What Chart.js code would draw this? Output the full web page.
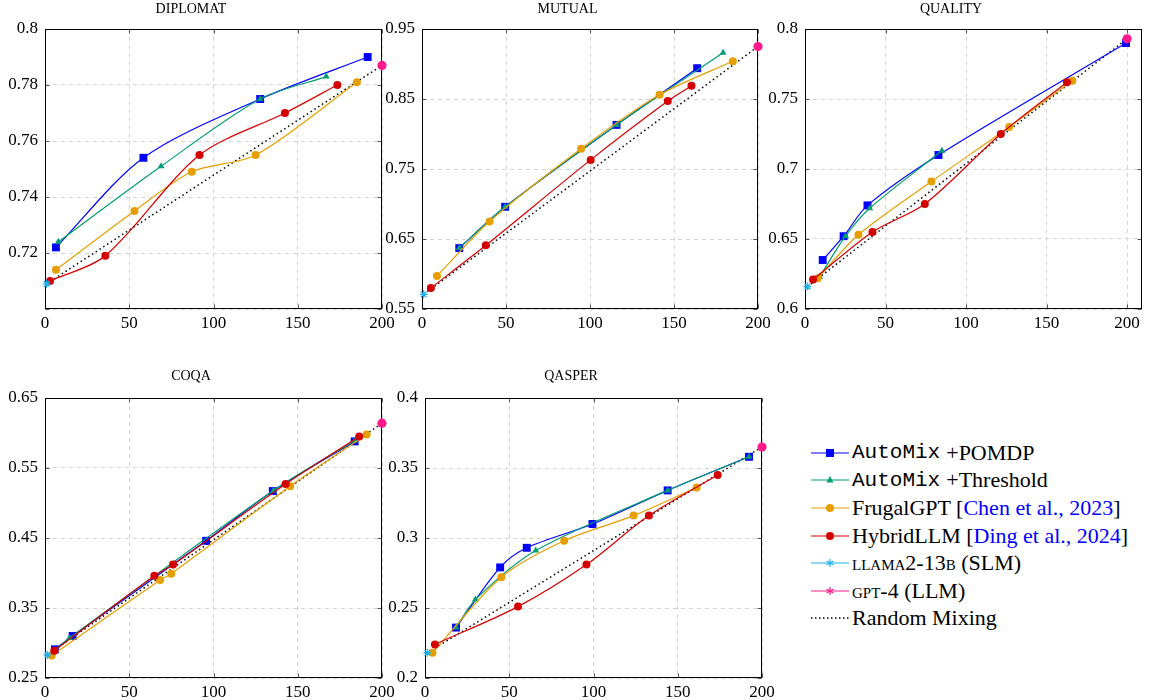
<!DOCTYPE html>
<html>
<head>
<meta charset="utf-8">
<script src="https://cdn.jsdelivr.net/npm/chart.js@4.4.1/dist/chart.umd.min.js"></script>
<style>
body { margin: 0; background: #fff; width: 1150px; height: 700px; position: relative; overflow: hidden; font-family: "Liberation Serif", serif; }
canvas { position: absolute; }
#legend { position: absolute; left: 811px; top: 439px; font-size: 22px; color: #000; }
.row { display: flex; align-items: center; height: 27.6px; white-space: nowrap; }
.row svg { margin-right: 3px; flex: none; }
.tt { font-family: "Liberation Mono", monospace; font-size: 21px; margin-right: 6px; }
.cite { color: #0000ff; }
.sc { font-variant: small-caps; }
</style>
</head>
<body>
<canvas id="diplomat" width="402" height="338"></canvas>
<canvas id="mutual" width="401" height="338"></canvas>
<canvas id="quality" width="402" height="338"></canvas>
<canvas id="coqa" width="402" height="338"></canvas>
<canvas id="qasper" width="402" height="338"></canvas>

<div id="legend">
	<div class="row"><svg width="38" height="14"><line x1="0" y1="7" x2="38" y2="7" stroke="#0000ff" stroke-width="1.2"/><rect x="15" y="3" width="8" height="8" fill="#0000ff"/></svg><span class="tt">AutoMix</span>+POMDP</div>
	<div class="row"><svg width="38" height="14"><line x1="0" y1="7" x2="38" y2="7" stroke="#009e73" stroke-width="1.2"/><polygon points="19,3 22.5,9.5 15.5,9.5" fill="#009e73"/></svg><span class="tt">AutoMix</span>+Threshold</div>
	<div class="row"><svg width="38" height="14"><line x1="0" y1="7" x2="38" y2="7" stroke="#e69f00" stroke-width="1.2"/><circle cx="19" cy="7" r="4" fill="#e69f00"/></svg>FrugalGPT [<span class="cite">Chen et al., 2023</span>]</div>
	<div class="row"><svg width="38" height="14"><line x1="0" y1="7" x2="38" y2="7" stroke="#d40000" stroke-width="1.2"/><circle cx="19" cy="7" r="4" fill="#d40000"/></svg>HybridLLM [<span class="cite">Ding et al., 2024</span>]</div>
	<div class="row"><svg width="38" height="14"><line x1="0" y1="7" x2="38" y2="7" stroke="#1fb4ee" stroke-width="1.2"/><path d="M19,3 V11 M15.5,5 L22.5,9 M15.5,9 L22.5,5" stroke="#1fb4ee" stroke-width="1.2"/></svg><span class="sc">llama</span>2-13<span class="sc">b</span>&nbsp;(SLM)</div>
	<div class="row"><svg width="38" height="14"><line x1="0" y1="7" x2="38" y2="7" stroke="#ff1a8c" stroke-width="1.2"/><path d="M19,3 V11 M15.5,5 L22.5,9 M15.5,9 L22.5,5" stroke="#ff1a8c" stroke-width="1.2"/></svg><span class="sc">gpt</span>-4 (LLM)</div>
	<div class="row"><svg width="38" height="14"><line x1="0" y1="7" x2="38" y2="7" stroke="#000" stroke-width="1.5" stroke-dasharray="1.5 2.5"/></svg>Random Mixing</div>
</div>

<script>
// values: [cost, score]
const xTicks = [0, 50, 100, 150, 200];

const diplomatPomdp = [[6.5, 0.722], [58.4, 0.754], [127.7, 0.775], [191.5, 0.790]];
const diplomatThreshold = [[7.9, 0.724], [68.9, 0.751], [127.7, 0.775], [166.9, 0.783]];
const diplomatFrugal = [[6.5, 0.714], [53.1, 0.735], [87.1, 0.749], [125, 0.755], [185.1, 0.781]];
const diplomatHybrid = [[3, 0.710], [35.8, 0.719], [91.7, 0.755], [142.4, 0.770], [173.5, 0.780]];
const diplomatSlm = [[1, 0.709]];
const diplomatLlm = [[200, 0.787]];

const mutualPomdp = [[22.2, 0.637], [49.5, 0.696], [115.8, 0.813], [163.8, 0.894]];
const mutualThreshold = [[22.2, 0.637], [49.5, 0.696], [115.8, 0.813], [179.2, 0.916]];
const mutualFrugal = [[8.9, 0.597], [40.2, 0.675], [94.7, 0.779], [141.4, 0.856], [185, 0.904]];
const mutualHybrid = [[5.3, 0.580], [38, 0.641], [100.4, 0.763], [146.3, 0.847], [160.4, 0.869]];
const mutualSlm = [[1, 0.571]];
const mutualLlm = [[200, 0.925]];

const qualityPomdp = [[11, 0.635], [24, 0.652], [38.8, 0.674], [82.9, 0.710], [199.4, 0.790]];
const qualityThreshold = [[9.1, 0.623], [25.1, 0.652], [40.2, 0.672], [85, 0.713]];
const qualityFrugal = [[7.9, 0.622], [33.2, 0.653], [78.5, 0.691], [126.8, 0.730], [166, 0.763]];
const qualityHybrid = [[5, 0.621], [41.9, 0.655], [74.4, 0.675], [121.6, 0.725], [162.7, 0.762]];
const qualitySlm = [[1.5, 0.616]];
const qualityLlm = [[200, 0.793]];

const coqaPomdp = [[5.9, 0.291], [16.4, 0.310], [95.6, 0.446], [135.2, 0.517], [183.8, 0.588]];
const coqaThreshold = [[5.5, 0.289], [14.5, 0.307], [135.6, 0.518], [183.8, 0.589]];
const coqaFrugal = [[4, 0.282], [68.3, 0.390], [74.9, 0.399], [145.5, 0.524], [190.9, 0.598]];
const coqaHybrid = [[5.5, 0.289], [64.9, 0.396], [76, 0.412], [142.8, 0.527], [186.5, 0.595]];
const coqaSlm = [[1.4, 0.283]];
const coqaLlm = [[200, 0.614]];

const qasperPomdp = [[18.4, 0.236], [44.6, 0.279], [60.4, 0.293], [99.4, 0.310], [144, 0.334], [192.3, 0.358]];
const qasperThreshold = [[18.4, 0.236], [29.9, 0.256], [65.7, 0.291], [144, 0.334], [192.3, 0.358]];
const qasperFrugal = [[4.4, 0.218], [45.3, 0.272], [82.6, 0.298], [123.8, 0.316], [161.2, 0.336]];
const qasperHybrid = [[5.9, 0.224], [55.2, 0.251], [95.8, 0.281], [132.9, 0.316], [173.7, 0.345]];
const qasperSlm = [[1.4, 0.218]];
const qasperLlm = [[200, 0.365]];

const seriesStyles = [
	{ label: "AutoMix +POMDP", color: "#0000ff", pointStyle: "rect", radius: 5.6, line: true },
	{ label: "AutoMix +Threshold", color: "#009e73", pointStyle: "triangle", radius: 4, line: true },
	{ label: "FrugalGPT", color: "#e69f00", pointStyle: "circle", radius: 4, line: true },
	{ label: "HybridLLM", color: "#d40000", pointStyle: "circle", radius: 4, line: true },
	{ label: "llama2-13b (SLM)", color: "#1fb4ee", pointStyle: "star", radius: 4, line: false },
	{ label: "gpt-4 (LLM)", color: "#ff1a8c", pointStyle: "circle", radius: 4.6, line: false },
];

const panels = [
	{ id: "diplomat", title: "DIPLOMAT", left: 45, top: 29, w: 337, h: 280, xMax: 200, yMin: 0.7, yMax: 0.8, yStep: 0.02, hideMin: true, gap: 20,
		series: [diplomatPomdp, diplomatThreshold, diplomatFrugal, diplomatHybrid, diplomatSlm, diplomatLlm] },
	{ id: "mutual", title: "MUTUAL", left: 422, top: 29, w: 336, h: 280, xMax: 200, yMin: 0.55, yMax: 0.95, yStep: 0.1, hideMin: false, gap: 20,
		series: [mutualPomdp, mutualThreshold, mutualFrugal, mutualHybrid, mutualSlm, mutualLlm] },
	{ id: "quality", title: "QUALITY", left: 805, top: 29, w: 337, h: 280, xMax: 209.3, yMin: 0.6, yMax: 0.8, yStep: 0.05, hideMin: false, gap: 20,
		series: [qualityPomdp, qualityThreshold, qualityFrugal, qualityHybrid, qualitySlm, qualityLlm] },
	{ id: "coqa", title: "COQA", left: 45, top: 398, w: 337, h: 280, xMax: 200, yMin: 0.25, yMax: 0.65, yStep: 0.1, hideMin: false, gap: 22,
		series: [coqaPomdp, coqaThreshold, coqaFrugal, coqaHybrid, coqaSlm, coqaLlm] },
	{ id: "qasper", title: "QASPER", left: 425, top: 398, w: 337, h: 280, xMax: 200, yMin: 0.2, yMax: 0.4, yStep: 0.05, hideMin: false, gap: 22,
		series: [qasperPomdp, qasperThreshold, qasperFrugal, qasperHybrid, qasperSlm, qasperLlm] },
];

const tickFont = { family: "'Liberation Serif', serif", size: 17 };

// frame and inner tick marks like pgfplots
const boxPlugin = {
	id: "box",
	beforeDatasetsDraw(chart) {
		const { ctx, chartArea: a, scales } = chart;
		const l = Math.round(a.left) + 0.5, r = Math.round(a.right) - 0.5;
		const t = Math.round(a.top) + 0.5, b = Math.round(a.bottom) - 0.5;
		ctx.save();
		ctx.strokeStyle = "#555";
		ctx.lineWidth = 1;
		ctx.beginPath();
		scales.x.ticks.forEach((tk) => {
			const px = Math.round(scales.x.getPixelForValue(tk.value)) + 0.5;
			ctx.moveTo(px, b); ctx.lineTo(px, b - 4);
			ctx.moveTo(px, t); ctx.lineTo(px, t + 4);
		});
		scales.y.ticks.forEach((tk) => {
			const py = Math.round(scales.y.getPixelForValue(tk.value)) + 0.5;
			ctx.moveTo(l, py); ctx.lineTo(l + 4, py);
			ctx.moveTo(r, py); ctx.lineTo(r - 4, py);
		});
		ctx.stroke();
		ctx.strokeStyle = "#000";
		ctx.strokeRect(l, t, r - l, b - t);
		ctx.restore();
	},
};

function renderPanel(p) {
	const canvas = document.getElementById(p.id);
	canvas.width = 45 + p.w + 20;
	canvas.height = 30 + p.h + 28;
	canvas.style.left = (p.left - 45) + "px";
	canvas.style.top = (p.top - 30) + "px";

	let datasets = p.series.map((pts, i) => {
		const s = seriesStyles[i];
		return {
			label: s.label,
			data: pts.map((d) => ({ x: d[0], y: d[1] })),
			showLine: s.line,
			borderColor: s.color,
			backgroundColor: s.color,
			borderWidth: 1.2,
			tension: 0.3,
			pointStyle: s.pointStyle,
			pointRadius: s.radius,
			pointBorderWidth: s.pointStyle === "star" ? 1.3 : 0,
			pointBorderColor: s.color,
			pointBackgroundColor: s.color,
			clip: false,
			order: 10 - i,
		};
	});
	const slm = p.series[4][0];
	const llm = p.series[5][0];
	datasets = [...datasets, {
		label: "Random Mixing",
		data: [{ x: slm[0], y: slm[1] }, { x: llm[0], y: llm[1] }],
		showLine: true,
		borderColor: "#000",
		borderWidth: 1.5,
		borderDash: [1.5, 3],
		pointRadius: 0,
		clip: false,
		order: 20,
	}];

	const padTop = 23 - p.gap;
	return new Chart(canvas, {
		type: "scatter",
		data: { datasets: datasets },
		options: {
			responsive: false,
			animation: false,
			devicePixelRatio: 1,
			layout: { padding: { left: 0, right: 20, top: 0, bottom: 0 } },
			scales: {
				x: {
					type: "linear",
					min: 0,
					max: p.xMax,
					afterFit: (s) => { s.height = 28; },
					afterBuildTicks: (s) => { s.ticks = xTicks.map((v) => ({ value: v })); },
					border: { display: false, dash: [4, 4] },
					grid: { color: "#d4d4d4", drawTicks: false, lineWidth: 1 },
					ticks: { color: "#000", font: tickFont, padding: 4, maxRotation: 0 },
				},
				y: {
					type: "linear",
					min: p.yMin,
					max: p.yMax,
					afterFit: (s) => { s.width = 45; },
					border: { display: false, dash: [4, 4] },
					grid: { color: "#d4d4d4", drawTicks: false, lineWidth: 1 },
					ticks: {
						color: "#000",
						font: tickFont,
						padding: 7,
						stepSize: p.yStep,
						callback: (v) => {
							if (p.hideMin && Math.abs(v - p.yMin) < 1e-9) return "";
							return String(parseFloat(v.toFixed(3)));
						},
					},
				},
			},
			plugins: {
				legend: { display: false },
				tooltip: { enabled: false },
				title: {
					display: true,
					text: p.title,
					color: "#000",
					font: { family: "'Liberation Serif', serif", size: 14, weight: "normal", lineHeight: 1 },
					padding: { top: padTop, bottom: 16 - padTop },
				},
			},
		},
		plugins: [boxPlugin],
	});
}

panels.forEach((p) => renderPanel(p));
</script>
</body>
</html>
